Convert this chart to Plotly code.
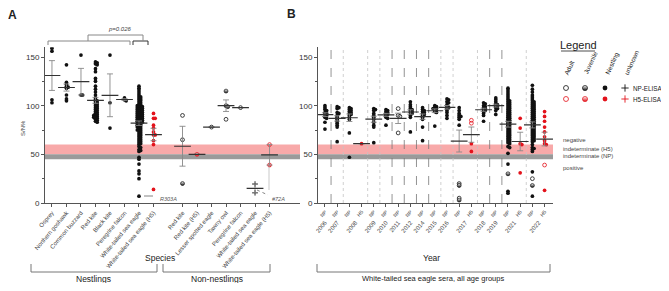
import numpy as np
import plotly.graph_objects as go

# The page body has an 8px margin: the figure is sized so the page never scrolls,
# and all layout numbers below are reference-picture pixels (shifted by OFF).
OFF = 8
REF_W = 669
W, H = REF_W - OFF, 291 - 2 * OFF
RED = "#e3121b"
BLK = "#111111"

# ---------------- Panel A data ----------------
A_CATEGORIES = ["Osprey", "Northern goshawk", "Common buzzard", "Red kite", "Black kite",
                "Peregrine falcon", "White-tailed sea eagle", "White-tailed sea eagle (H5)",
                "Red kite", "Red kite (H5)", "Lesser spotted eagle", "Tawny owl",
                "Peregrine falcon", "White-tailed sea eagle", "White-tailed sea eagle (H5)"]
A_GROUP = ["Nestlings"] * 8 + ["Non-nestlings"] * 7
A_ASSAY = ["NP"] * 7 + ["H5"] + ["NP", "H5", "NP", "NP", "NP", "NP", "H5"]
A_VALUES = [
    [159, 156, 106, 103],
    [142, 124, 122, 120, 119, 118, 111, 107, 105],
    [152, 111, 111],
    [145, 144, 143, 142, 138, 135, 128, 125, 120, 117, 114, 111, 108, 106, 105, 104, 103,
     102, 101, 100, 99, 98, 97, 96, 95, 94, 93, 92, 91, 90, 90, 89, 88, 88, 87, 86, 85, 84, 83],
    [152, 103, 77],
    [108, 106, 105],
    [120, 118, 116, 114, 112, 110, 109, 108, 107, 106, 105, 104, 103, 102, 101, 100, 100, 99,
     99, 98, 98, 97, 97, 96, 96, 95, 95, 94, 94, 93, 93, 92, 92, 91, 91, 90, 90, 89, 89, 88,
     88, 87, 87, 86, 86, 85, 85, 84, 84, 83, 83, 82, 82, 81, 80, 80, 79, 78, 78, 77, 76, 75,
     75, 74, 73, 72, 71, 70, 69, 68, 67, 66, 65, 64, 63, 62, 61, 60, 58, 57, 55, 54, 53, 47,
     45, 40, 33, 30, 25, 7],
    [92, 87, 87, 80, 77, 73, 70, 70, 64, 60, 14],
    [90, 65, 20],
    [50],
    [78],
    [115, 100, 99, 86],
    [98],
    [19.5, 10.5],
    [60, 39],
]
# age class per point: N nestling, A adult, J juvenile, U unknown (single letter = all)
A_AGES = ["N", "N", "N", "N", "N", "N", "N", "N", "AAJ", "J", "A", "JJJA", "A", "U", "AJ"]

# ---------------- Panel B data ----------------
B_YEARS = ["2006", "2007", "2008", "2008", "2009", "2010", "2011", "2012", "2014", "2015",
           "2016", "2017", "2017", "2018", "2019", "2021", "2021", "2022", "2022"]
B_ASSAY = ["NP", "NP", "NP", "H5", "NP", "NP", "NP", "NP", "NP", "NP",
           "NP", "NP", "H5", "NP", "NP", "NP", "H5", "NP", "H5"]
B_VALUES = [
    [100, 98, 96, 95, 93, 92, 91, 90, 88, 87, 83, 76],
    [99, 98, 97, 93, 92, 90, 88, 86, 84, 82, 80, 78, 63],
    [98, 97, 96, 95, 94, 93, 92, 91, 90, 88, 86, 72, 47],
    [61],
    [97, 96, 95, 92, 90, 88, 86, 83, 80, 78, 62],
    [96, 95, 94, 93, 92, 91, 90, 88, 87, 80],
    [97, 90, 89, 72],
    [104, 101, 99, 97, 96, 95, 94, 93, 92, 90, 88, 73],
    [98, 96, 95, 94, 93, 92, 91, 90, 88, 86, 78, 64],
    [100, 99, 98, 97, 97, 96, 95, 94, 93, 79],
    [107, 106, 104, 103, 101, 99, 98, 97, 95, 93, 90, 87],
    [98, 95, 92, 90, 89, 88, 86, 80, 20, 18, 5, 3],
    [85, 82, 61, 53],
    [103, 102, 100, 99, 98, 97, 96, 95, 94, 92, 90, 84],
    [108, 106, 104, 102, 101, 100, 99, 98, 97, 95, 91],
    [118, 116, 114, 112, 110, 108, 106, 105, 104, 103, 102, 101, 100, 99, 98, 97, 96, 95,
     94, 93, 92, 91, 90, 89, 88, 87, 86, 85, 84, 83, 82, 81, 80, 79, 78, 77, 76, 75, 74, 73,
     72, 71, 70, 69, 68, 67, 66, 65, 64, 63, 62, 61, 58, 57, 51, 40, 30, 12, 10],
    [87, 77, 61, 60, 31],
    [121, 117, 114, 111, 109, 107, 105, 104, 103, 102, 101, 100, 99, 98, 97, 96, 95, 94, 93,
     92, 91, 90, 89, 88, 87, 86, 85, 84, 83, 82, 81, 80, 79, 78, 77, 76, 75, 74, 73, 72, 71,
     70, 69, 68, 67, 66, 65, 64, 63, 60, 57, 56, 55, 53, 32, 25, 18, 7],
    [94, 89, 84, 78, 73, 68, 64, 61, 60, 39, 13],
]
B_AGES = ["N", "N", "N", "N", "N", "N", "A", "N", "N", "N", "N", "NNNNNNNNJJAJ", "AANN",
          "N", "N", "N" * 56 + "JNN", "N", "N" * 55 + "AJN", "NNNNNNNNNAN"]

THRESH_POS = 45   # NP cut-off (indeterminate NP 45-50)
THRESH_H5 = 50    # indeterminate H5 50-60
THRESH_NEG = 60

# ---------------- layout geometry (reference pixel coordinates) ----------------
A_X = (45, 300)
B_X = (318, 553)
Y_PX = (203, 47.3)
Y_RANGE = (0, 160)

a_pos = []
p = 0
for i, g in enumerate(A_GROUP):
    if i > 0 and g != A_GROUP[i - 1]:
        p += 1
    a_pos.append(p)
    p += 1
b_pos = list(range(len(B_YEARS)))

A_RANGE = (-0.48, 17.1)
B_RANGE = (-0.57, 18.69)
pxy = (Y_PX[0] - Y_PX[1]) / (Y_RANGE[1] - Y_RANGE[0])
pxA = (A_X[1] - A_X[0]) / (A_RANGE[1] - A_RANGE[0])
pxB = (B_X[1] - B_X[0]) / (B_RANGE[1] - B_RANGE[0])


def xdom(a, b):
    return [(a - OFF) / W, (b - OFF) / W]


def ydom(bottom, top):
    return [1 - (bottom - OFF) / H, 1 - (top - OFF) / H]


def swarm(vals, d, pxx):
    vals = np.asarray(vals, float)
    order = np.argsort(-vals, kind="stable")
    placed = []
    offs = np.zeros(len(vals))
    cands = [0.0]
    for j in range(1, 80):
        cands += [j * d / 2, -j * d / 2]
    for i in order:
        y = vals[i] * pxy
        chosen = cands[-1]
        for c in cands:
            if all((c - qx) ** 2 + (y - qy) ** 2 >= d * d for qx, qy in placed):
                chosen = c
                break
        placed.append((chosen, y))
        offs[i] = chosen / pxx
    return offs


def marker_style(age, col, s=1.0):
    if age == "N":
        return dict(symbol="circle", size=3.7 * s, color=col, line=dict(width=0))
    if age == "A":
        return dict(symbol="circle-open", size=3.8 * s, color=col, line=dict(width=0.8, color=col))
    if age == "J":
        return dict(symbol="circle", size=3.9 * s, color="white",
                    gradient=dict(type="vertical", color=col), line=dict(width=0.7, color=col))
    return dict(symbol="cross-thin-open", size=4 * s, color=col, line=dict(width=0.9, color=col))


fig = go.Figure()


def add_panel(values, ages, assays, positions, pxx, xa, ya):
    for vals, ag, assay, pos in zip(values, ages, assays, positions):
        col = RED if assay == "H5" else BLK
        ag = ag * len(vals) if len(ag) == 1 else ag
        offs = swarm(vals, 1.7, pxx)
        for code in "NAJU":
            idx = [k for k, c in enumerate(ag) if c == code]
            if not idx:
                continue
            fig.add_trace(go.Scatter(
                x=[pos + offs[k] for k in idx], y=[vals[k] for k in idx],
                mode="markers", marker=marker_style(code, col),
                xaxis=xa, yaxis=ya, showlegend=False, hoverinfo="y"))
        v = np.asarray(vals, float)
        sem = v.std(ddof=1) / np.sqrt(len(v)) if len(v) > 1 else 0.0
        fig.add_trace(go.Scatter(
            x=[pos], y=[v.mean()], mode="markers",
            marker=dict(symbol="line-ew", size=12, line=dict(width=1.2, color="#333333")),
            error_y=dict(type="data", array=[sem], thickness=0.9, width=3, color="#888888"),
            xaxis=xa, yaxis=ya, showlegend=False, hoverinfo="y"))


add_panel(A_VALUES, A_AGES, A_ASSAY, a_pos, pxA, "x", "y")
add_panel(B_VALUES, B_AGES, B_ASSAY, b_pos, pxB, "x2", "y2")

years_unique = []
for y in B_YEARS:
    if y not in years_unique:
        years_unique.append(y)
year_centers = [np.mean([b for b, yy in zip(b_pos, B_YEARS) if yy == y]) for y in years_unique]
fig.add_trace(go.Scatter(x=[None], y=[None], xaxis="x4", yaxis="y2", showlegend=False))

# ---------------- legend marks (pixel overlay axis) ----------------
LEG_AGES = ["Adult", "Juvenile", "Nestling", "unknown"]
leg_x = [566, 585, 605, 625]
for row_y, col in [(88, BLK), (99, RED)]:
    for code, lx in zip("AJNU", leg_x):
        fig.add_trace(go.Scatter(x=[lx], y=[row_y], mode="markers",
                                 marker=marker_style(code, col, 1.3),
                                 xaxis="x3", yaxis="y3", showlegend=False, hoverinfo="skip"))

FONT = "Liberation Sans"

axis_common = dict(showline=True, linecolor="#555555", linewidth=1, ticks="outside",
                   tickcolor="#555555", ticklen=3, showgrid=False, zeroline=False,
                   automargin=False,
                   tickfont=dict(family=FONT, size=6, color="#444444"))
yaxis_common = dict(showline=True, linecolor="#555555", linewidth=1, ticks="outside",
                    tickcolor="#555555", ticklen=3, showgrid=False, zeroline=False,
                    automargin=False,
                    range=list(Y_RANGE), tick0=0, dtick=50, domain=ydom(*Y_PX),
                    minor=dict(dtick=25, ticks="outside", ticklen=2, tickcolor="#555555"),
                    tickfont=dict(family=FONT, size=8, color="#333333"))

fig.update_layout(
    template="none",
    width=W, height=H, margin=dict(l=0, r=0, t=0, b=0, pad=0), autosize=False,
    paper_bgcolor="white", plot_bgcolor="rgba(0,0,0,0)",
    font=dict(family=FONT, color="#222222"),
    xaxis=dict(axis_common, domain=xdom(*A_X), range=list(A_RANGE), anchor="y",
               tickmode="array", tickvals=a_pos, ticktext=A_CATEGORIES, tickangle=-50),
    yaxis=dict(yaxis_common, anchor="x"),
    xaxis2=dict(axis_common, domain=xdom(*B_X), range=list(B_RANGE), anchor="y2",
                tickmode="array", tickvals=b_pos, ticktext=B_ASSAY, tickangle=-50,
                tickfont=dict(family=FONT, size=5, color="#444444")),
    yaxis2=dict(yaxis_common, anchor="x2"),
    xaxis4=dict(overlaying="x2", anchor="y2", range=list(B_RANGE), side="bottom",
                showline=False, showgrid=False, zeroline=False, ticks="", automargin=False,
                tickmode="array", tickvals=year_centers, ticktext=years_unique,
                tickangle=-50, ticklabelstandoff=14,
                tickfont=dict(family=FONT, size=6, color="#444444")),
    xaxis3=dict(domain=[0, 1], range=[OFF, OFF + W], visible=False, anchor="y3",
                automargin=False),
    yaxis3=dict(domain=[0, 1], range=[OFF + H, OFF], visible=False, anchor="x3",
                automargin=False),
)

shapes = []
for xa, ya in [("x", "y"), ("x2", "y2")]:
    shapes.append(dict(type="rect", xref=f"{xa} domain", yref=ya, x0=0, x1=1,
                       y0=THRESH_H5, y1=THRESH_NEG, fillcolor="#f8a9a9", line=dict(width=0),
                       layer="below"))
    shapes.append(dict(type="rect", xref=f"{xa} domain", yref=ya, x0=0, x1=1,
                       y0=THRESH_POS, y1=THRESH_H5, fillcolor="#9a9a9a", line=dict(width=0),
                       layer="below"))
DARK_SEPARATORS = {"2007", "2011", "2012", "2014", "2015", "2019", "2021"}
for i in range(1, len(B_YEARS)):
    if B_YEARS[i] != B_YEARS[i - 1]:
        dark = B_YEARS[i] in DARK_SEPARATORS
        shapes.append(dict(type="line", xref="x2", yref="y2 domain",
                           x0=i - 0.5, x1=i - 0.5, y0=0, y1=1, layer="below",
                           line=dict(color="#777777" if dark else "#c4c4c4", width=0.8,
                                     dash="dash" if dark else "dot")))


def path(pts, color="#777777", width=1, dash="solid"):
    d = "M" + " L".join(f"{x},{y}" for x, y in pts)
    return dict(type="path", xref="x3", yref="y3", path=d,
                line=dict(color=color, width=width, dash=dash))


shapes += [
    path([(31, 264), (31, 272), (157, 272), (157, 264)]),
    path([(163, 264), (163, 272), (270, 272), (270, 264)]),
    path([(317, 264), (317, 272), (550, 272), (550, 264)]),
    path([(48, 45), (48, 41), (130, 41), (130, 45)], "#888888"),
    path([(133, 45), (133, 41), (148, 41), (148, 45)], "#333333"),
    path([(88, 41), (88, 35), (143, 35), (143, 41)], "#888888"),
    path([(144, 196), (156, 196)], "#666666", 0.8, "dash"),
    path([(269, 166), (269, 190)], "#bbbbbb", 0.8),
    path([(257, 190), (268, 195)], "#666666", 0.8, "dot"),
    path([(561, 51), (595, 51)], "#222222", 0.8),
]
fig.update_layout(shapes=shapes)


def ann(x, y, text, size=7, xanchor="center", yanchor="middle", angle=0, bold=False,
        color="#222222", italic=False):
    t = f"<b>{text}</b>" if bold else text
    t = f"<i>{t}</i>" if italic else t
    return dict(x=x, y=y, xref="x3", yref="y3", text=t, showarrow=False,
                xanchor=xanchor, yanchor=yanchor, textangle=angle,
                font=dict(family=FONT, size=size, color=color))


annotations = [
    ann(12.5, 15, "A", 12, bold=True),
    ann(291, 14, "B", 12, bold=True),
    ann(120, 29, "p=0.026", 6, italic=True, color="#444444"),
    ann(23, 128, "S/N%", 6, angle=-90, color="#444444"),
    ann(160, 257.5, "Species", 8.5),
    ann(93, 278.5, "Nestlings", 8.5),
    ann(217, 278.5, "Non-nestlings", 8.5),
    ann(431, 257.5, "Year", 8.5),
    ann(433, 278.5, "White-tailed sea eagle sera, all age groups", 7.5),
    ann(158, 199, "R303A", 5.5, xanchor="left", italic=True, color="#555555"),
    ann(270, 199, "#72A", 5.5, xanchor="left", italic=True, color="#555555"),
    ann(578, 45, "Legend", 11),
    ann(631, 88, "NP-ELISA", 6.3, xanchor="left"),
    ann(631, 99, "H5-ELISA", 6.3, xanchor="left"),
    ann(561, 140, "negative", 6, xanchor="left", color="#444444"),
    ann(561, 149, "indeterminate (H5)", 6, xanchor="left", color="#444444"),
    ann(561, 156, "indeterminate (NP)", 6, xanchor="left", color="#444444"),
    ann(561, 168, "positive", 6, xanchor="left", color="#444444"),
]
for lab, lx in zip(LEG_AGES, [560, 580, 601, 620]):
    annotations.append(ann(lx, 78, lab, 6.5, xanchor="left", yanchor="bottom", angle=-65))
fig.update_layout(annotations=annotations)

fig.write_html("out.html")
